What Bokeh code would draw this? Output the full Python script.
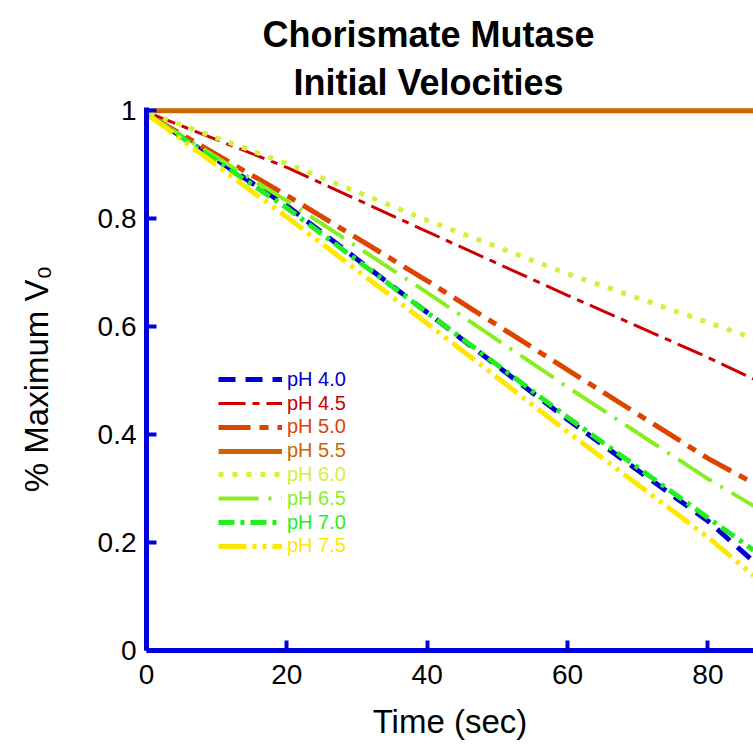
from bokeh.plotting import figure
from bokeh.models import Legend, LegendItem, Title, Range1d, FixedTicker
from bokeh.embed import file_html
from bokeh.resources import INLINE

# ---- data ----
time_s = [0.5, 20, 40, 60, 80, 86.5]
time_flat = [0, 20, 40, 60, 80, 86.5]
ph_labels = ["pH 4.0", "pH 4.5", "pH 5.0", "pH 5.5", "pH 6.0", "pH 6.5", "pH 7.0", "pH 7.5"]
ph40 = [0.99, 0.824, 0.626, 0.428, 0.240, 0.165]
ph45 = [0.995, 0.895, 0.776, 0.658, 0.543, 0.503]
ph50 = [0.99, 0.843, 0.685, 0.520, 0.356, 0.310]
ph55 = [1.0, 1.0, 1.0, 1.0, 1.0, 1.0]
ph60 = [0.995, 0.902, 0.797, 0.698, 0.608, 0.578]
ph65 = [0.99, 0.833, 0.663, 0.488, 0.318, 0.268]
ph70 = [0.99, 0.820, 0.626, 0.432, 0.246, 0.186]
ph75 = [0.99, 0.803, 0.606, 0.405, 0.210, 0.139]
x_ticks = [0, 20, 40, 60, 80]
y_ticks = [0, 0.2, 0.4, 0.6, 0.8, 1]

series = [
    (ph_labels[0], time_s, ph40, "#0000cc", "17 10", 5),
    (ph_labels[1], time_s, ph45, "#cc0000", "27 7 7 7", 3),
    (ph_labels[2], time_s, ph50, "#dd4400", "32 9 9 9", 5),
    (ph_labels[3], time_flat, ph55, "#cc6600", "solid", 5),
    (ph_labels[4], time_s, ph60, "#d4f03c", "5 9", 5),
    (ph_labels[5], time_s, ph65, "#88ee22", "40 10 3 10", 4),
    (ph_labels[6], time_s, ph70, "#22ee22", "16 6 4 6", 5),
    (ph_labels[7], time_s, ph75, "#ffe800", "28 6 4 6 4 6", 5),
]

AX = "#0000dd"
FONT = "Liberation Sans"

p = figure(width=753, height=749, frame_width=607, frame_height=543,
           output_backend="svg", toolbar_location=None,
           x_range=Range1d(0, 86.5), y_range=Range1d(0, 1.006),
           min_border_left=146, min_border_right=0, min_border_top=107, min_border_bottom=99)
p.outline_line_color = None
p.grid.visible = False
p.background_fill_color = "white"
p.border_fill_color = "white"

for ax in (p.xaxis[0], p.yaxis[0]):
    ax.axis_line_color = AX
    ax.axis_line_width = 5
    ax.major_tick_line_color = AX
    ax.major_tick_line_width = 4
    ax.major_tick_in = 10
    ax.major_tick_out = 0
    ax.minor_tick_line_color = None
    ax.major_label_text_font = FONT
    ax.major_label_text_font_size = "28px"
    ax.major_label_text_color = "black"
    ax.axis_label_text_font = FONT
    ax.axis_label_text_font_size = "33px"
    ax.axis_label_text_font_style = "normal"
    ax.axis_label_text_color = "black"

p.xaxis.ticker = FixedTicker(ticks=x_ticks)
p.yaxis.ticker = FixedTicker(ticks=y_ticks)
p.yaxis.major_label_overrides = {0: "0", 1: "1"}
p.xaxis.axis_label = "Time (sec)"
p.yaxis.axis_label = "% Maximum V\u2080"
p.xaxis.major_label_standoff = 14
p.yaxis.major_label_standoff = 10
p.xaxis.axis_label_standoff = 16
p.yaxis.axis_label_standoff = 40

renderers = []
for label, xs, ys, color, dash, w in series:
    r = p.line(xs, ys, line_color=color, line_width=w, line_dash=dash, line_cap="butt")
    renderers.append(r)

# one legend per entry so each label takes its series colour
row_h = 23.8
first_center = 650 - 380.7
for i, ((label, xs, ys, color, dash, w), r) in enumerate(zip(series, renderers)):
    center = first_center - i * row_h
    lg = Legend(items=[LegendItem(label=label, renderers=[r])],
                location=(72, center - 10),
                glyph_width=64, glyph_height=20, label_height=20,
                label_standoff=5, padding=0, margin=0, spacing=0,
                border_line_color=None, background_fill_alpha=0,
                label_text_color=color, label_text_font=FONT,
                label_text_font_size="20px")
    p.add_layout(lg, "center")

t2 = Title(text="Initial Velocities", align="left", offset=147,
           text_font=FONT, text_font_size="36px", text_font_style="bold",
           text_color="black", standoff=10)
t1 = Title(text="Chorismate Mutase", align="left", offset=116,
           text_font=FONT, text_font_size="36px", text_font_style="bold",
           text_color="black", standoff=0)
p.add_layout(t2, "above")
p.add_layout(t1, "above")

open("out.html", "w").write(file_html(p, INLINE))
